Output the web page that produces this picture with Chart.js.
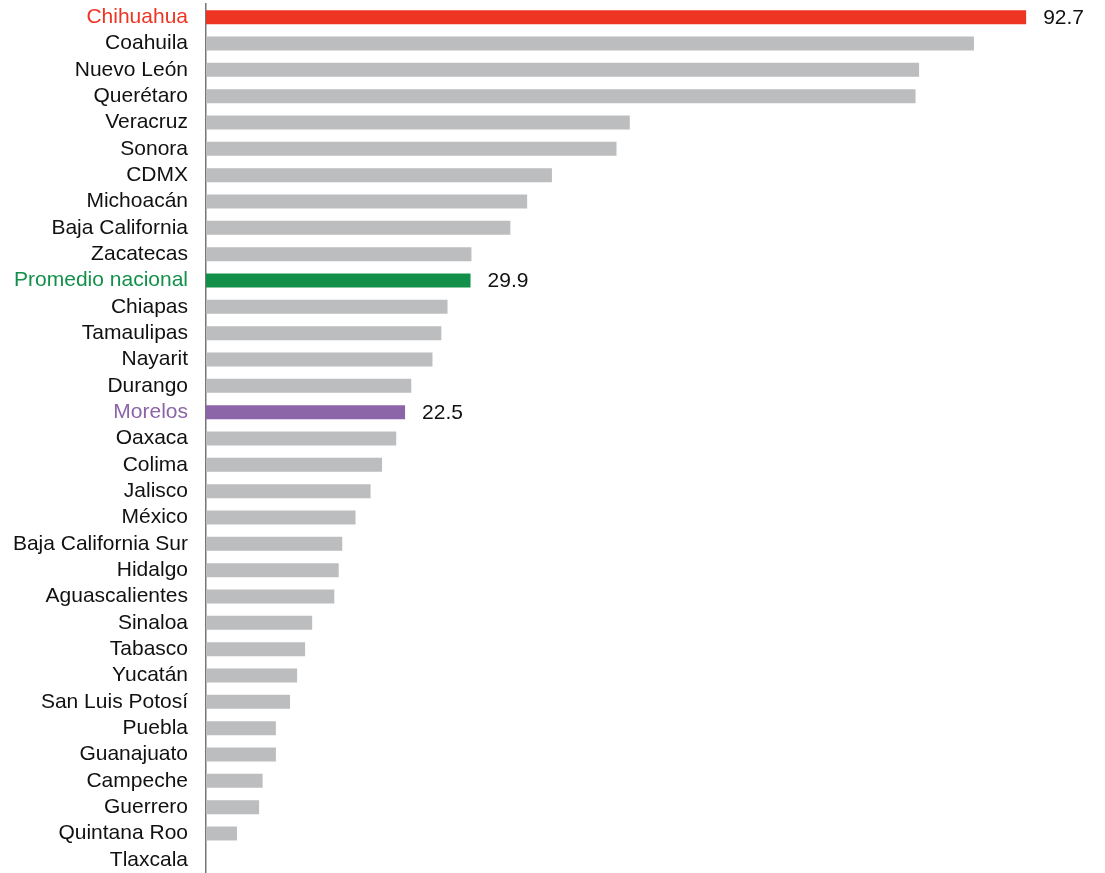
<!DOCTYPE html>
<html>
<head>
<meta charset="utf-8">
<script src="https://cdn.jsdelivr.net/npm/chart.js@4"></script>
<style>
html,body{margin:0;padding:0;background:#fff}
#wrap{width:1105px;height:873px;position:relative}
</style>
</head>
<body>
<div id="wrap"><canvas id="chartHTML"></canvas></div>
<script>
const estados=["Chihuahua","Coahuila","Nuevo León","Querétaro","Veracruz","Sonora","CDMX","Michoacán","Baja California","Zacatecas","Promedio nacional","Chiapas","Tamaulipas","Nayarit","Durango","Morelos","Oaxaca","Colima","Jalisco","México","Baja California Sur","Hidalgo","Aguascalientes","Sinaloa","Tabasco","Yucatán","San Luis Potosí","Puebla","Guanajuato","Campeche","Guerrero","Quintana Roo","Tlaxcala"]
const valores=[92.7,86.8,80.6,80.2,47.9,46.4,39.1,36.3,34.4,30.0,29.9,27.3,26.6,25.6,23.2,22.5,21.5,19.9,18.6,16.9,15.4,15.0,14.5,12.0,11.2,10.3,9.5,7.9,7.9,6.4,6.0,3.5,0]
const destacados={"Chihuahua":"#ee3524","Promedio nacional":"#12904a","Morelos":"#8c64a8"}
const colorGris="#bcbdbf"

const barColors=estados.map(e=>destacados[e]||colorGris)
const tickColors=estados.map(e=>destacados[e]||"#111111")

// value text only on the highlighted bars
const valueLabelsPlugin={
id:'valueLabels',
afterDatasetsDraw(chart){
const ctx=chart.ctx
const meta=chart.getDatasetMeta(0)
ctx.save()
ctx.font='21px "Liberation Sans", Arial, Helvetica, sans-serif'
ctx.fillStyle='#111111'
ctx.textAlign='left'
ctx.textBaseline='middle'
meta.data.forEach((bar,i)=>{
if(!destacados[estados[i]])return
ctx.fillText(valores[i].toFixed(1),bar.x+17,bar.y+1)
})
ctx.restore()
}
}

let chartEstados=new Chart(
document.getElementById('chartHTML'),
{
type:'bar',
data:{
labels:estados,
datasets:[{
data:valores,
backgroundColor:barColors,
barPercentage:0.53,
categoryPercentage:1
}]
},
options:{
indexAxis:'y',
animation:false,
responsive:true,
maintainAspectRatio:false,
layout:{padding:{top:4,right:1,bottom:0,left:0}},
plugins:{
legend:{display:false},
tooltip:{enabled:false},
title:{display:false}
},
scales:{
x:{
display:false,
min:0,
max:101.5
},
y:{
afterFit:(scale)=>{
scale.width=206
scale.paddingTop=0
scale.paddingBottom=0
},
grid:{drawOnChartArea:false,drawTicks:false},
border:{display:true,color:'#777777',width:1.5},
ticks:{
padding:18,
autoSkip:false,
color:(c)=>tickColors[c.index],
font:{family:'"Liberation Sans", Arial, Helvetica, sans-serif',size:21}
}
}
}
},
plugins:[valueLabelsPlugin]
}
)
</script>
</body>
</html>
